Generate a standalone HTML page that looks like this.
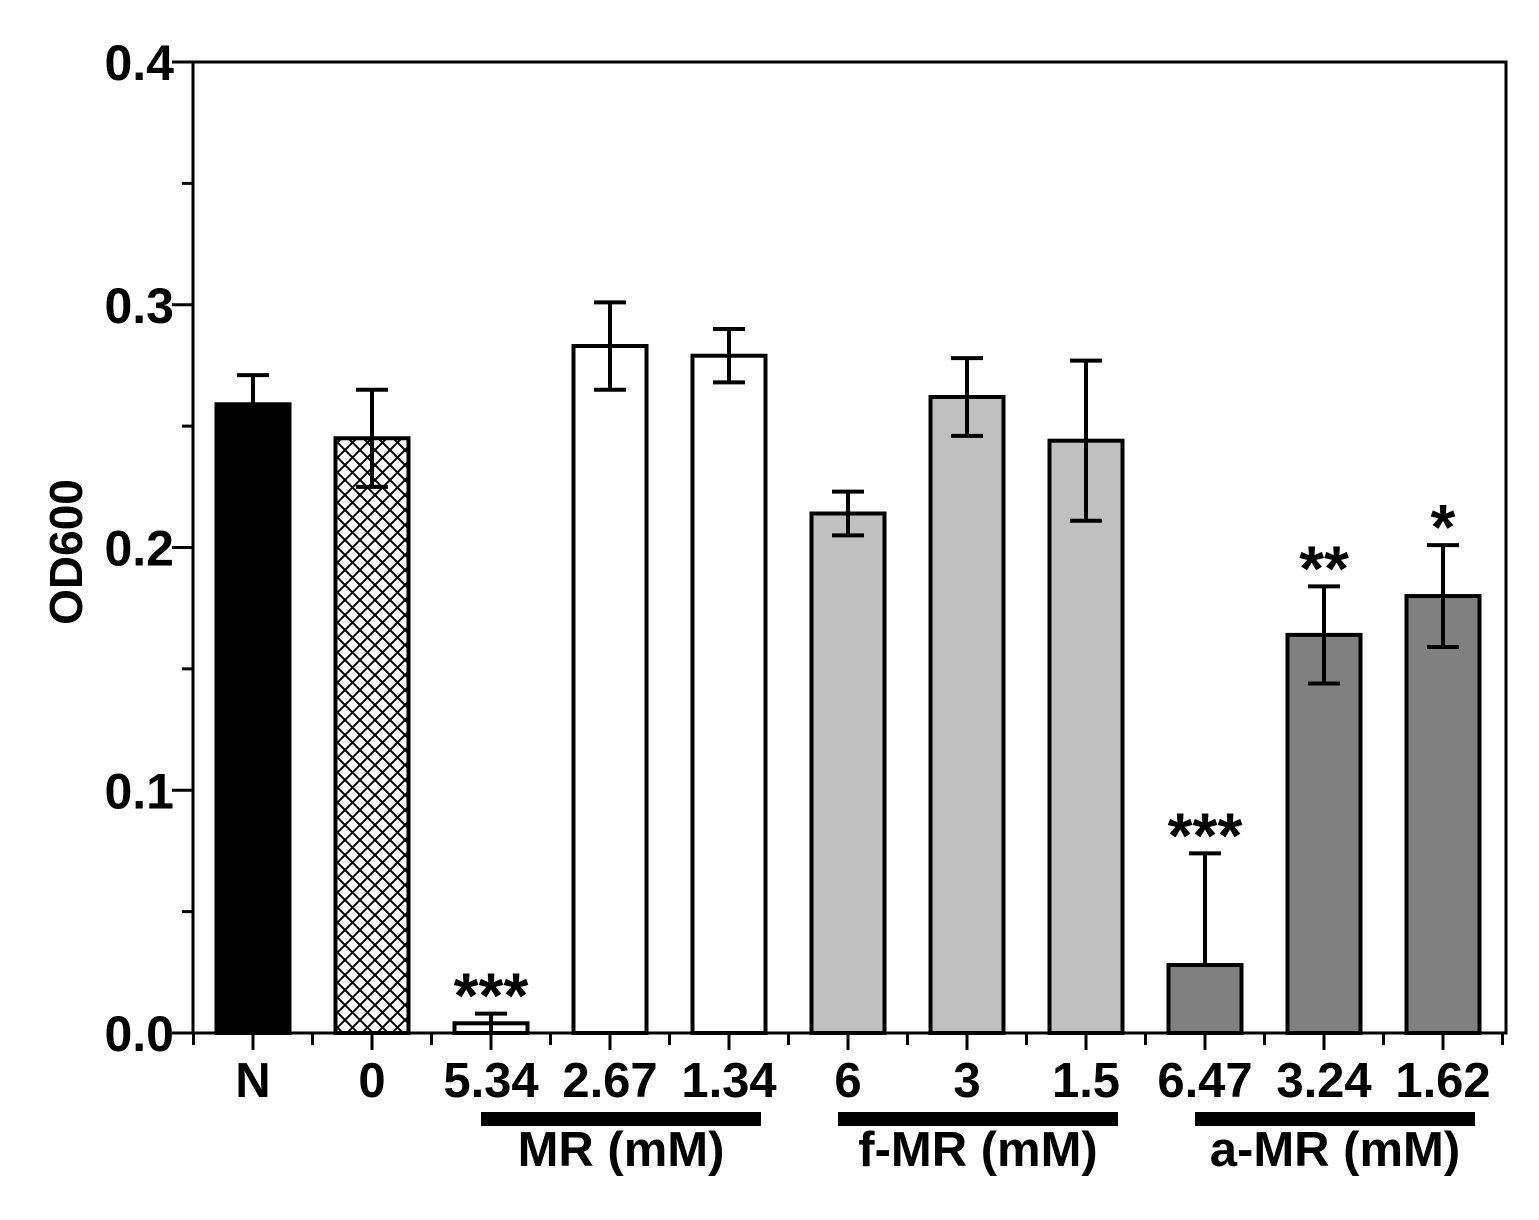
<!DOCTYPE html>
<html><head><meta charset="utf-8"><style>
body{margin:0;background:#fff}
svg text{font-family:"Liberation Sans",Arial,sans-serif;font-weight:bold}
</style></head><body>
<svg id="chart" width="1539" height="1215" xmlns="http://www.w3.org/2000/svg">
<defs>
<pattern id="hatch" width="15" height="15" patternUnits="userSpaceOnUse">
<rect width="15" height="15" fill="#fff"/>
<path d="M0,0L15,15M15,0L0,15" stroke="#000" stroke-width="2"/>
</pattern>
</defs>
<g id="plot"></g>
</svg>
<script>
const categories=["N","0","5.34","2.67","1.34","6","3","1.5","6.47","3.24","1.62"];
const values=[0.259,0.245,0.004,0.283,0.279,0.214,0.262,0.244,0.028,0.164,0.180];
const errors=[0.012,0.020,0.004,0.018,0.011,0.009,0.016,0.033,0.046,0.020,0.021];
const stars=["","","***","","","","","","***","**","*"];
const fills=["#000","url(#hatch)","#fff","#fff","#fff","#c0c0c0","#c0c0c0","#c0c0c0","#808080","#808080","#808080"];
const yTicks=[0.0,0.1,0.2,0.3,0.4];
const yTickLabels=["0.0","0.1","0.2","0.3","0.4"];
const groups=[{label:"MR (mM)",from:2,to:4},{label:"f-MR (mM)",from:5,to:7},{label:"a-MR (mM)",from:8,to:10}];

const NS="http://www.w3.org/2000/svg";
const g=document.getElementById('plot');
const x0=193,x1=1506,yTop=62,yBot=1033;
const y=v=>yBot-(v/0.4)*(yBot-yTop);
const xc=i=>253+i*119;
const bw=73;
function mk(t,a){const e=document.createElementNS(NS,t);for(const k in a)e.setAttribute(k,a[k]);g.appendChild(e);return e;}

let fr=mk('rect',{x:x0,y:yTop,width:x1-x0,height:yBot-yTop,fill:'none',stroke:'#000','stroke-width':3});



for(let v=0;v<=0.4001;v+=0.05){
  const major=Math.abs(v*10-Math.round(v*10))<1e-6;
  const t=mk('line',{x1:major?172:182,x2:x0,y1:y(v),y2:y(v),stroke:'#000','stroke-width':3});
  
  
}
yTicks.forEach((v,i)=>{
  const t=mk('text',{x:174,y:y(v)+18,'text-anchor':'end','font-size':50});
  t.textContent=yTickLabels[i];
  
  
});
const yt=mk('text',{x:0,y:0,'text-anchor':'middle','font-size':46,transform:'translate(82,552) rotate(-90)'});
yt.textContent='OD600';



for(let i=0;i<=categories.length;i++){
  const m=mk('line',{x1:xc(i)-59.5,x2:xc(i)-59.5,y1:yBot,y2:1045,stroke:'#000','stroke-width':3});
  
  
}
categories.forEach((c,i)=>{
  const t=mk('line',{x1:xc(i),x2:xc(i),y1:yBot,y2:1050,stroke:'#000','stroke-width':3});
  
  
  const l=mk('text',{x:xc(i),y:1097,'text-anchor':'middle','font-size':49});
  l.textContent=c;
  
  
  const b=mk('rect',{x:xc(i)-bw/2,y:y(values[i]),width:bw,height:yBot-y(values[i]),fill:fills[i],stroke:'#000','stroke-width':4});
  
  
  const hi=y(values[i]+errors[i]);
  const lo=(i===8)?y(values[i]):y(values[i]-errors[i]);
  const e=mk('path',{d:`M${xc(i)},${lo}V${hi}M${xc(i)-16},${hi}H${xc(i)+16}`+(i===8?'':`M${xc(i)-16},${lo}H${xc(i)+16}`),stroke:'#000','stroke-width':4,fill:'none'});
  
  
  if(stars[i]){
    const s=mk('text',{x:xc(i),y:hi+4,'text-anchor':'middle','font-size':64});
    s.textContent=stars[i];
    
    
  }
});
groups.forEach(gr=>{
  const a=xc(gr.from)-10,b=xc(gr.to)+32;
  const r=mk('rect',{x:a,y:1112,width:b-a,height:14,fill:'#000'});
  
  
  const t=mk('text',{x:(a+b)/2,y:1166,'text-anchor':'middle','font-size':49});
  t.textContent=gr.label;
  
  
});
</script>
</body></html>
